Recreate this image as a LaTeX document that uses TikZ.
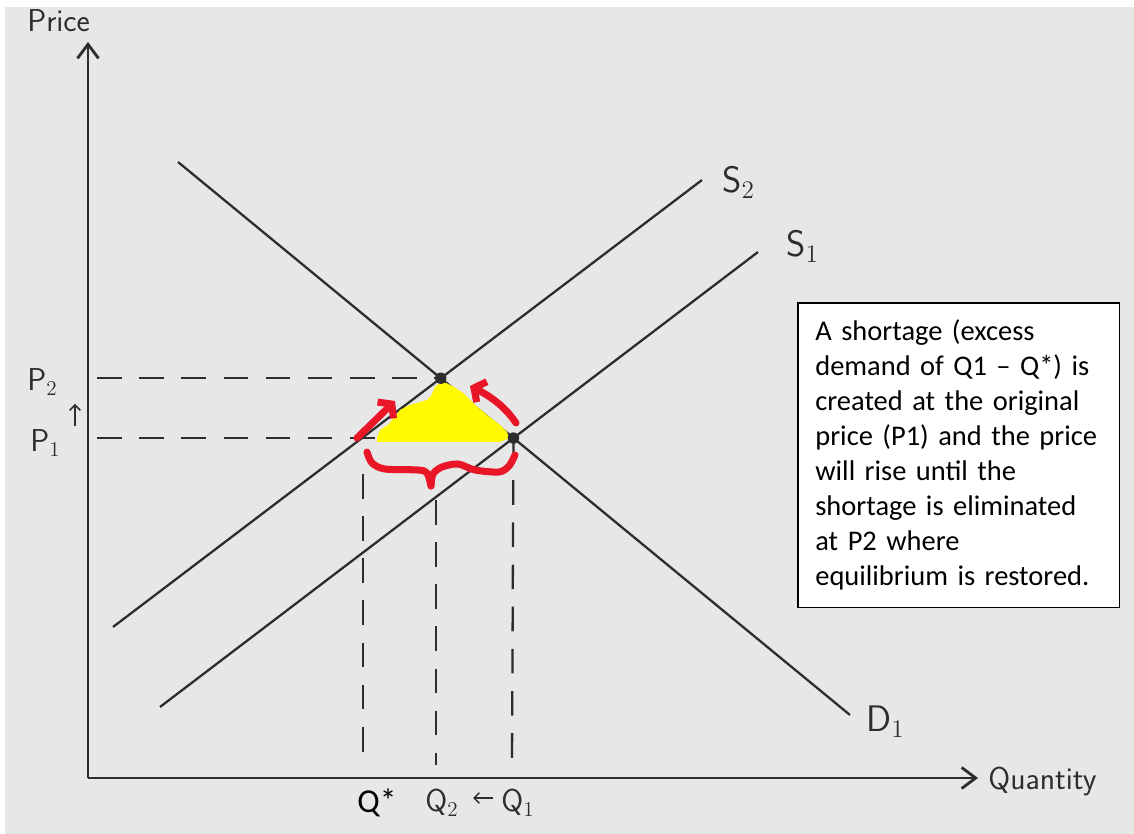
\documentclass[tikz,border=0pt]{standalone}
\usepackage{fontspec}
\setmainfont{Carlito}
\usetikzlibrary{arrows.meta,intersections}
\definecolor{paper}{RGB}{231,231,231}
\definecolor{ink}{RGB}{45,45,45}
\definecolor{markred}{RGB}{232,22,38}
\definecolor{hilite}{RGB}{255,250,0}

\begin{document}
\begin{tikzpicture}[x=0.02cm,y=-0.02cm,
    axis/.style={line width=1.6pt,draw=ink,-{Straight Barb[length=8pt,width=12pt]}},
    curve/.style={line width=1.3pt,draw=ink},
    guide/.style={line width=1.3pt,draw=ink,dash pattern=on 14pt off 10pt},
    eqdot/.style={circle,fill=ink,minimum size=6.5pt,inner sep=0pt},
    hand/.style={font=\sffamily\fontsize{18}{20}\selectfont,text=ink,inner sep=0pt},
    bighand/.style={hand,font=\sffamily\fontsize{21}{22}\selectfont},
    redmark/.style={line width=4pt,draw=markred,line cap=round,line join=round},
    note/.style={draw=black,line width=0.9pt,fill=white,text width=163pt,
      align=left,inner xsep=10pt,inner ysep=8pt,minimum height=173.5pt,
      font=\fontsize{16.2}{19.9}\selectfont}]
  \useasboundingbox (0,0) rectangle (1134,834);
  \fill[white] (0,0) rectangle (1134,834);
  \fill[paper] (5,7) rectangle (1134,834);

  % axes
  \coordinate (O) at (88,778);
  \coordinate (ytop) at (88,42);
  \coordinate (xend) at (978,778);
  \draw[axis] (O) -- (ytop);
  \draw[axis] (O) -- (xend);
  \node[hand,anchor=base west] (price) at (27,32) {Price};
  \node[hand,anchor=base west] (quantity) at (988,790) {Quantity};

  % demand and the two supply curves
  \coordinate (d1a) at (178,162);
  \coordinate (d1b) at (850,715);
  \coordinate (s2a) at (113,627);
  \coordinate (s2b) at (702,180);
  \coordinate (s1a) at (160,707);
  \coordinate (s1b) at (758,252);
  \draw[curve,name path=d1] (d1a) -- (d1b);
  \draw[curve,name path=s2] (s2a) -- (s2b);
  \draw[curve,name path=s1] (s1a) -- (s1b);
  \path[name intersections={of=d1 and s2,by=ptNew}];
  \path[name intersections={of=d1 and s1,by=ptOld}];
  \node[bighand,anchor=base west] (s2lab) at (722,193) {S$_2$};
  \node[bighand,anchor=base west] (s1lab) at (786,257) {S$_1$};
  \node[bighand,anchor=base west] (d1lab) at (866,732) {D$_1$};

  % guide lines to the axes
  \coordinate (pmark) at (97,0);
  \draw[guide] (ptNew -| pmark) -- (ptNew);
  \draw[guide] (ptOld -| pmark) -- (ptOld);
  \draw[guide] (363,474) -- (363,760);
  \draw[guide] (436,500) -- (436,765);
  \draw[guide] (ptOld) -- (512,765);

  % shortage area
  \fill[hilite] plot coordinates {(377,438) (380,430) (388,425) (400,410)
    (410,405) (420,402) (427,400) (431,396) (435,387) (440,383) (446,383)
    (454,387) (463,393) (473,403) (487,415) (500,425) (507,432) (509,438)
    (500,442) (377,442)} -- cycle;

  \node[eqdot] (eqNew) at (ptNew) {};
  \node[eqdot] (eqOld) at (ptOld) {};

  % price labels
  \node[hand,anchor=base west] (p2lab) at (27,391) {P$_2$};
  \node[hand,anchor=base west] (p1lab) at (30,452) {P$_1$};
  \coordinate (pupA) at (75,426);
  \coordinate (pupB) at (75,404);
  \draw[line width=0.9pt,draw=ink,-{Straight Barb[length=3pt,width=6pt]}] (pupA) -- (pupB);

  % quantity labels
  \node[anchor=base west,inner sep=0pt,font=\fontsize{19}{21}\selectfont] (qslab) at (357,813) {Q*};
  \node[hand,anchor=base west] (q2lab) at (425,812) {Q$_2$};
  \node[hand,anchor=base west] (q1lab) at (501,812) {Q$_1$};
  \coordinate (qarrA) at (493,798);
  \coordinate (qarrB) at (473,798);
  \draw[line width=0.9pt,draw=ink,-{Straight Barb[length=3pt,width=6pt]}] (qarrA) -- (qarrB);

  % red marks: rising price and the shortage brace
  \coordinate (upA) at (357,438);
  \coordinate (upB) at (395,401);
  \coordinate (upC) at (516,423);
  \coordinate (upD) at (470,386);
  \draw[redmark,-{Straight Barb[length=5pt,width=13pt]}] (upA) -- (upB);
  \draw[redmark,-{Straight Barb[length=5pt,width=13pt]}] (upC)
    .. controls (506,408) and (492,397) .. (upD);
  \draw[redmark] plot[smooth] coordinates {(367,452) (372,463) (385,469)
    (418,470) (427,473) (431,486)};
  \draw[redmark] plot[smooth] coordinates {(431,486) (433,474) (442,467)
    (458,464) (475,470) (499,472) (509,466) (515,455)};

  % explanation
  \node[note,anchor=north west] (expl) at (797,302)
    {A shortage (excess\\ demand of Q1 -- Q*) is\\ created at the original\\
     price (P1) and the price\\ will rise until the\\ shortage is eliminated\\
     at P2 where\\ equilibrium is restored.};
\end{tikzpicture}
\end{document}
